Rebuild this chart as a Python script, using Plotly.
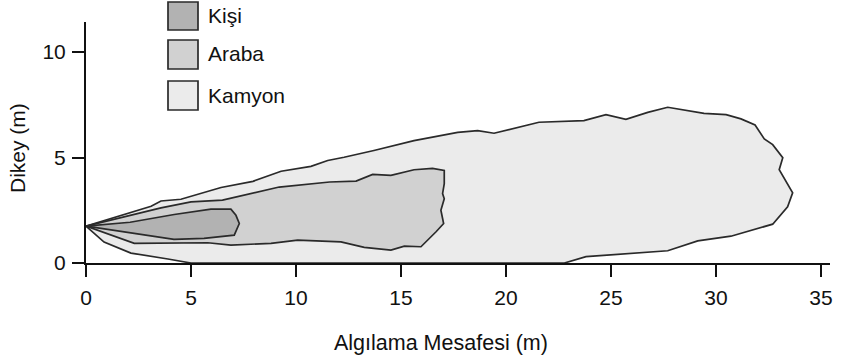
import plotly.graph_objects as go

# ---- data ----
series_names = ["Kişi", "Araba", "Kamyon"]

kamyon_x = [0, 3.1, 3.57, 4.52, 6.43, 7.95, 9.29, 10.71, 11.51, 12.29, 13.71, 15.62, 17.7, 18.65,
            19.43, 21.57, 23.71, 24.76, 25.71, 26.75, 27.7, 29.43, 30.48, 31.19, 31.86, 32.3, 32.7,
            33.18, 33.01, 33.65, 33.41, 32.7, 30.71, 29.13, 27.7, 23.81, 22.78, 5.0, 3.9, 2.14, 0.86, 0]
kamyon_y = [1.75, 2.69, 2.94, 3.02, 3.58, 3.87, 4.35, 4.58, 4.86, 5.01, 5.33, 5.80, 6.19, 6.27,
            6.15, 6.67, 6.75, 7.03, 6.81, 7.14, 7.38, 7.09, 7.03, 6.83, 6.54, 5.88, 5.61,
            4.99, 4.42, 3.33, 2.66, 1.84, 1.27, 1.05, 0.58, 0.30, 0.0, 0.0, 0.19, 0.47, 0.99, 1.75]

araba_x = [0, 3.57, 5.0, 6.5, 9.2, 11.6, 12.86, 13.65, 14.52, 15.62, 16.5, 17.06, 17.06, 16.98,
           17.06, 16.9, 17.03, 16.67, 15.95, 15.16, 14.52, 13.25, 12.14, 10.08, 8.81, 6.9, 5.8, 2.3, 0]
araba_y = [1.75, 2.61, 2.9, 2.98, 3.6, 3.84, 3.88, 4.2, 4.15, 4.42, 4.48, 4.39, 3.76, 3.29,
           3.05, 2.5, 1.87, 1.48, 0.77, 0.8, 0.61, 0.74, 1.0, 1.08, 0.93, 0.85, 0.96, 0.93, 1.75]

kisi_x = [0, 2.1, 4.2, 5.0, 5.95, 6.9, 7.14, 7.3, 7.06, 5.62, 4.19, 0]
kisi_y = [1.75, 1.93, 2.3, 2.42, 2.55, 2.55, 2.26, 1.87, 1.32, 1.17, 1.12, 1.75]

x_ticks = [0, 5, 10, 15, 20, 25, 30, 35]
y_ticks = [0, 5, 10]

fill_colors = {"Kişi": "#b2b2b2", "Araba": "#d1d1d1", "Kamyon": "#ebebeb"}
edge_color = "#2a2a2a"
FONT = "Liberation Sans, Arial, Helvetica, sans-serif"

# ---- layout geometry (pixels) ----
W, H = 846, 361
L, R, T, B = 86, 16, 22, 98
PW, PH = W - L - R, H - T - B


def px(xp):
    return (xp - L) / PW


def py(yp):
    return (H - B - yp) / PH


fig = go.Figure()
for name, xs, ys in [("Kamyon", kamyon_x, kamyon_y),
                     ("Araba", araba_x, araba_y),
                     ("Kişi", kisi_x, kisi_y)]:
    fig.add_trace(go.Scatter(
        x=xs, y=ys, mode="lines", fill="toself", name=name,
        fillcolor=fill_colors[name],
        line=dict(color=edge_color, width=1.7),
        showlegend=False, hoverinfo="name",
    ))

# manual legend (large square swatches)
legend_rows = [("Kişi", 2, 30), ("Araba", 40, 69), ("Kamyon", 81, 110)]
shapes = []
annotations = []
for name, top, bot in legend_rows:
    shapes.append(dict(type="rect", xref="paper", yref="paper",
                       x0=px(168), x1=px(198), y0=py(bot), y1=py(top),
                       fillcolor=fill_colors[name],
                       line=dict(color=edge_color, width=1.7)))
    annotations.append(dict(text=name, xref="paper", yref="paper",
                            x=px(206), y=py((top + bot) / 2 - 0.5),
                            xanchor="left", yanchor="middle", showarrow=False,
                            font=dict(family=FONT, size=21, color="#111")))

annotations.append(dict(text="Algılama Mesafesi (m)", xref="paper", yref="paper",
                        x=px(441), y=py(343), xanchor="center", yanchor="middle",
                        showarrow=False, font=dict(family=FONT, size=21.5, color="#111")))
annotations.append(dict(text="Dikey (m)", xref="paper", yref="paper",
                        x=px(17), y=py(148), xanchor="center", yanchor="middle",
                        textangle=-90, showarrow=False,
                        font=dict(family=FONT, size=21, color="#111")))

axis_common = dict(showline=True, linecolor="#111", linewidth=2,
                   ticks="outside", ticklen=12, tickwidth=2, tickcolor="#111",
                   showgrid=False, zeroline=False, automargin=False,
                   tickfont=dict(family=FONT, size=21, color="#111"))

fig.update_layout(
    width=W, height=H,
    margin=dict(l=L, r=R, t=T, b=B, autoexpand=False),
    paper_bgcolor="white", plot_bgcolor="white",
    xaxis=dict(range=[0, PW / 21.0], tickvals=x_ticks, ticktext=[str(v) for v in x_ticks],
               ticklabelstandoff=3, **axis_common),
    yaxis=dict(range=[0, PH / 21.1], tickvals=y_ticks, ticktext=[str(v) for v in y_ticks],
               ticklabelstandoff=2, **axis_common),
    shapes=shapes,
    annotations=annotations,
    showlegend=False,
)

fig.write_html("out.html",
               config={"displayModeBar": False},
               post_script="document.body.style.margin='0';document.body.style.overflow='hidden';")
